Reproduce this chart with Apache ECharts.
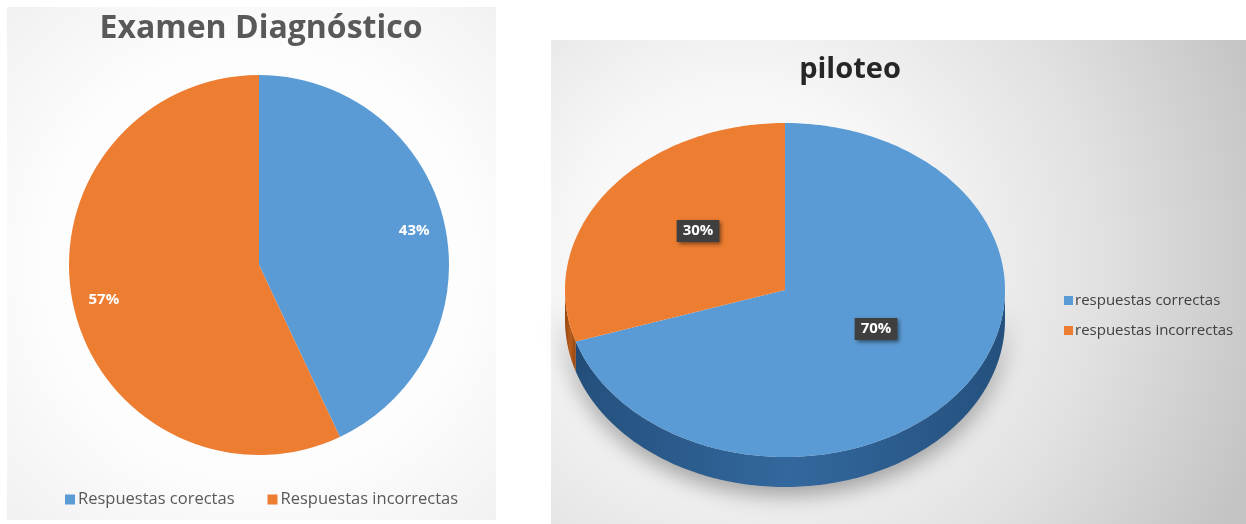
<!DOCTYPE html>
<html>
<head>
<meta charset="utf-8">
<title>Examen Diagnóstico / piloteo</title>
<script src="https://cdn.jsdelivr.net/npm/echarts@6/dist/echarts.min.js"></script>
<style>
  html, body { margin: 0; padding: 0; background: #ffffff; }
  #chart { width: 1246px; height: 524px; }
</style>
</head>
<body>
<div id="chart"></div>
<script>
// ---- data ----
const leftTitle = 'Examen Diagnóstico';
const leftCategories = ['Respuestas corectas', 'Respuestas incorrectas'];
const leftValues = [43, 57];

const rightTitle = 'piloteo';
const rightCategories = ['respuestas correctas', 'respuestas incorrectas'];
const rightValues = [70, 30];

// ---- styling ----
const BLUE = '#5b9bd5';
const ORANGE = '#ed7d31';
const SIDE_COLORS = [['#33689e', '#24507d'], ['#b85c1e', '#94470f']];
const FONT = '"Open Sans", "Noto Sans", sans-serif';
const DEPTH = 30; // thickness of the tilted pie, px

const chart = echarts.init(document.getElementById('chart'), null, { renderer: 'canvas' });

const rightTotal = rightValues.reduce((a, b) => a + b, 0);
const rightStarts = rightValues.map((v, i) => rightValues.slice(0, i).reduce((a, b) => a + b, 0));

// Tilted (elliptical) pie slice with a front wall, drawn on a hidden [-1,1] cartesian grid
function renderTiltedSlice(params, api) {
  const start = api.value(0);
  const val = api.value(1);
  const a0 = start / rightTotal * Math.PI * 2;
  const a1 = (start + val) / rightTotal * Math.PI * 2;
  const idx = params.seriesIndex - 2;
  const fill = idx === 0 ? BLUE : ORANGE;
  const pt = t => api.coord([Math.sin(t), Math.cos(t)]);
  const arc = (s, e) => {
    const n = Math.max(2, Math.ceil((e - s) / (Math.PI / 180)));
    const pts = [];
    for (let k = 0; k <= n; k++) pts.push(pt(s + (e - s) * k / n));
    return pts;
  };
  const center = api.coord([0, 0]);
  const children = [];

  // front wall: only the part of the rim facing the viewer
  const lo = Math.max(a0, Math.PI / 2);
  const hi = Math.min(a1, Math.PI * 1.5);
  if (hi > lo) {
    const upper = arc(lo, hi);
    const lower = upper.slice().reverse().map(p => [p[0], p[1] + DEPTH]);
    children.push({
      type: 'polygon',
      shape: { points: upper.concat(lower) },
      style: {
        fill: new echarts.graphic.LinearGradient(0, 0, 1, 0, [
          { offset: 0, color: SIDE_COLORS[idx][1] },
          { offset: 0.5, color: SIDE_COLORS[idx][0] },
          { offset: 1, color: SIDE_COLORS[idx][1] }
        ]),
        shadowBlur: 22,
        shadowColor: 'rgba(0,0,0,0.35)',
        shadowOffsetY: 8
      },
      z2: 1
    });
  }

  // top face
  children.push({
    type: 'polygon',
    shape: { points: [center].concat(arc(a0, a1)) },
    style: { fill: fill },
    z2: 2
  });

  // value label in a dark box
  const mid = (a0 + a1) / 2;
  const lp = api.coord([Math.sin(mid) * 0.5, Math.cos(mid) * 0.5]);
  children.push({
    type: 'text',
    x: lp[0] + 2,
    y: lp[1] - 10,
    style: {
      text: val + '%',
      fill: '#ffffff',
      font: 'bold 15px ' + FONT,
      align: 'center',
      verticalAlign: 'middle',
      backgroundColor: '#3f3f3f',
      padding: [4, 6, 3, 6],
      shadowBlur: 4,
      shadowColor: 'rgba(0,0,0,0.5)',
      shadowOffsetX: 2,
      shadowOffsetY: 2
    },
    z2: 10
  });

  return { type: 'group', children: children };
}

const option = {
  animation: false,
  graphic: [
    {
      type: 'rect',
      shape: { x: 7, y: 7, width: 489, height: 513 },
      style: {
        fill: new echarts.graphic.RadialGradient(0.515, 0.5, 0.78, [
          { offset: 0, color: '#ffffff' },
          { offset: 0.55, color: '#fdfdfd' },
          { offset: 1, color: '#efefef' }
        ])
      },
      z: -10
    },
    {
      type: 'rect',
      shape: { x: 551, y: 40, width: 695, height: 484 },
      style: {
        fill: new echarts.graphic.RadialGradient(0.27, 0.45, 1.15, [
          { offset: 0, color: '#ffffff' },
          { offset: 0.3, color: '#f7f7f7' },
          { offset: 0.65, color: '#e1e1e1' },
          { offset: 1, color: '#c3c3c3' }
        ])
      },
      z: -10
    }
  ],
  title: [
    {
      text: leftTitle,
      left: 256,
      top: 8,
      textAlign: 'center',
      textStyle: { fontFamily: FONT, fontWeight: 'bold', fontSize: 32, color: '#595959' }
    },
    {
      text: rightTitle,
      left: 845,
      top: 50,
      textAlign: 'center',
      textStyle: { fontFamily: FONT, fontWeight: 'bold', fontSize: 29, color: '#262626' }
    }
  ],
  legend: [
    {
      data: leftCategories.map((n, i) => ({ name: n, itemStyle: { color: i === 0 ? BLUE : ORANGE } })),
      left: 60,
      top: 486,
      icon: 'rect',
      itemWidth: 10,
      itemHeight: 10,
      itemGap: 33,
      selectedMode: false,
      textStyle: { fontFamily: FONT, fontSize: 16.5, color: '#595959', padding: [0, 0, 0, -2] }
    },
    {
      data: rightCategories.map((n, i) => ({ name: n, itemStyle: { color: i === 0 ? BLUE : ORANGE } })),
      orient: 'vertical',
      left: 1059,
      top: 288,
      icon: 'rect',
      itemWidth: 9,
      itemHeight: 9,
      itemGap: 15,
      selectedMode: false,
      textStyle: { fontFamily: FONT, fontSize: 15, color: '#404040', padding: [0, 0, 0, -3] }
    }
  ],
  grid: { left: 565, top: 123, width: 440, height: 334 },
  xAxis: { type: 'value', min: -1, max: 1, show: false },
  yAxis: { type: 'value', min: -1, max: 1, show: false },
  series: [
    {
      type: 'pie',
      name: leftTitle,
      center: [259, 265],
      radius: [0, 190],
      startAngle: 90,
      clockwise: true,
      label: { show: false },
      labelLine: { show: false },
      emphasis: { disabled: true },
      data: leftCategories.map((n, i) => ({
        name: n, value: leftValues[i], itemStyle: { color: i === 0 ? BLUE : ORANGE }
      }))
    },
    {
      // transparent ring carrying the value labels near the rim
      type: 'pie',
      center: [259, 265],
      radius: [122, 190],
      startAngle: 90,
      clockwise: true,
      silent: true,
      itemStyle: { color: 'rgba(0,0,0,0)' },
      label: {
        show: true,
        position: 'inside',
        formatter: '{c}%',
        color: '#ffffff',
        fontFamily: FONT,
        fontWeight: 'bold',
        fontSize: 15
      },
      labelLine: { show: false },
      emphasis: { disabled: true },
      data: leftCategories.map((n, i) => ({ name: n + ' ', value: leftValues[i] }))
    }
  ].concat(rightCategories.map((n, i) => ({
    type: 'custom',
    name: n,
    coordinateSystem: 'cartesian2d',
    clip: false,
    silent: true,
    itemStyle: { color: i === 0 ? BLUE : ORANGE },
    renderItem: renderTiltedSlice,
    data: [[rightStarts[i], rightValues[i]]],
    z: 2
  })))
};

chart.setOption(option);
</script>
</body>
</html>
